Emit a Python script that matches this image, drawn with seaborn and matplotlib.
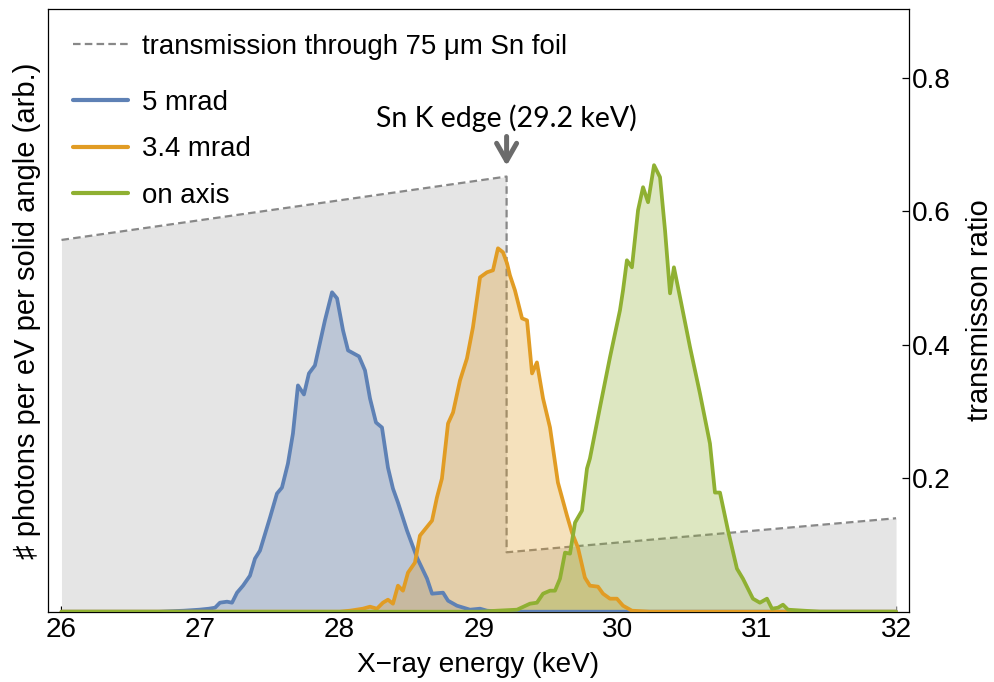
import matplotlib
matplotlib.use("Agg")
import matplotlib.pyplot as plt
from matplotlib.ticker import MultipleLocator, FixedLocator
import numpy as np
import pandas as pd
import seaborn as sns

# ---- spectra (photons per eV per solid angle, arbitrary units) ----
energy_5mrad = [26.0, 26.7, 26.88, 26.99, 27.06, 27.104, 27.139, 27.190, 27.226, 27.262,
                27.305, 27.355, 27.391, 27.427, 27.499, 27.549, 27.585, 27.628, 27.664,
                27.700, 27.743, 27.779, 27.822, 27.894, 27.945, 27.981, 28.024, 28.060,
                28.139, 28.182, 28.218, 28.261, 28.304, 28.347, 28.383, 28.419, 28.484,
                28.556, 28.628, 28.664, 28.743, 28.779, 28.843, 28.937, 29.009, 29.059,
                29.15, 32.0]
photons_5mrad = [0, 0, 1, 2, 3, 4, 9, 10, 9, 19,
                 26, 36, 53, 61, 94, 118, 124, 148, 178,
                 226, 217, 238, 246, 291, 319, 313, 281, 261,
                 255, 241, 213, 189, 184, 144, 123, 109, 81,
                 54, 33, 18, 19, 11, 6, 2, 3, 1,
                 0, 0]

energy_34mrad = [26.0, 28.0, 28.074, 28.167, 28.218, 28.268, 28.311, 28.347, 28.383, 28.419,
                 28.455, 28.491, 28.541, 28.577, 28.664, 28.699, 28.735, 28.779, 28.815,
                 28.865, 28.915, 28.958, 29.009, 29.059, 29.102, 29.138, 29.174, 29.203,
                 29.224, 29.260, 29.311, 29.347, 29.383, 29.418, 29.462, 29.512, 29.569,
                 29.634, 29.670, 29.713, 29.763, 29.799, 29.857, 29.893, 29.943, 29.993,
                 30.037, 30.101, 30.23, 32.0]
photons_34mrad = [0, 0, 1, 3, 5, 3, 9, 12, 8, 26,
                  21, 39, 49, 76, 91, 114, 133, 188, 199,
                  231, 253, 284, 334, 339, 341, 363, 359, 348,
                  336, 321, 293, 291, 238, 249, 213, 184, 129,
                  96, 79, 64, 34, 26, 25, 18, 13, 13,
                  6, 1, 0, 0]

energy_axis = [26.0, 29.009, 29.131, 29.275, 29.368, 29.418, 29.462, 29.512, 29.548, 29.584,
               29.620, 29.656, 29.692, 29.742, 29.778, 29.799, 29.871, 29.943, 30.015,
               30.037, 30.065, 30.101, 30.145, 30.181, 30.217, 30.260, 30.303, 30.339,
               30.375, 30.403, 30.447, 30.519, 30.590, 30.662, 30.698, 30.734, 30.792,
               30.856, 30.899, 30.971, 31.021, 31.072, 31.108, 31.151, 31.187, 31.223,
               31.453, 32.0]
photons_axis = [0, 0, 1, 2, 8, 9, 18, 21, 21, 33,
                59, 58, 89, 101, 143, 153, 204, 254, 301,
                321, 351, 344, 401, 424, 409, 446, 434, 381,
                318, 344, 314, 264, 218, 168, 119, 119, 81,
                43, 33, 13, 9, 13, 3, 4, 7, 2,
                0, 0]

series_labels = ["5 mrad", "3.4 mrad", "on axis"]
series_colors = ["#5E81B5", "#E19C24", "#8FB032"]

# ---- Sn foil transmission (75 um), K edge at 29.2 keV ----
energy_foil = [26.0, 29.2, 29.2, 32.0]
transmission_foil = [0.557, 0.652, 0.089, 0.140]
k_edge_keV = 29.2

x_ticks = [26, 27, 28, 29, 30, 31, 32]
ratio_ticks = [0.2, 0.4, 0.6, 0.8]

spectra = pd.concat([
    pd.DataFrame({"energy": energy_5mrad, "photons": photons_5mrad, "angle": series_labels[0]}),
    pd.DataFrame({"energy": energy_34mrad, "photons": photons_34mrad, "angle": series_labels[1]}),
    pd.DataFrame({"energy": energy_axis, "photons": photons_axis, "angle": series_labels[2]}),
], ignore_index=True)
foil = pd.DataFrame({"energy": energy_foil, "transmission": transmission_foil})

sns.set_theme(style="white")
plt.rcParams["font.family"] = ["Liberation Sans", "DejaVu Sans"]
plt.rcParams["axes.edgecolor"] = "black"
plt.rcParams["axes.linewidth"] = 0.9
plt.rcParams["text.color"] = "black"
plt.rcParams["axes.labelcolor"] = "black"

W, H = 994, 682
fig = plt.figure(figsize=(W / 100, H / 100), dpi=100)
L, R, T, B = 48, 909, 9, 611.7
ax = fig.add_axes([L / W, 1 - B / H, (R - L) / W, (B - T) / H])
ax2 = ax.twinx()

FS = 20.2
FS_LEGEND = 19.9
FS_LABEL = 21

# transmission on the lower layer
ax.fill_between(foil["energy"], foil["transmission"], 0, color="#e5e5e5", lw=0, zorder=1)
sns.lineplot(data=foil, x="energy", y="transmission", ax=ax, estimator=None, sort=False,
             color="#888888", lw=1.6, dashes=False, zorder=2)
foil_line = ax.lines[-1]
foil_line.set_dashes((3.4, 1.9))
ax.set_ylim(0, 0.903)
ax.set_xlim(25.903, 32.093)

# spectra on the upper layer
palette = dict(zip(series_labels, series_colors))
sns.lineplot(data=spectra, x="energy", y="photons", hue="angle", palette=palette,
             hue_order=series_labels, estimator=None, ax=ax2, lw=2.7, legend=False, zorder=3)
for name, col in zip(series_labels, series_colors):
    sub = spectra[spectra["angle"] == name]
    ax2.fill_between(sub["energy"], sub["photons"], 0, color=col, alpha=0.3, lw=0, zorder=2)
ax2.set_ylim(0, 602)
spectra_lines = ax2.lines[:3]

# axes styling
ax.yaxis.tick_right()
ax.yaxis.set_label_position("right")
ax.yaxis.set_major_locator(FixedLocator(ratio_ticks))
ax.set_yticklabels([f"{t:.1f}" for t in ratio_ticks])
ax.tick_params(axis="y", which="major", direction="in", length=5, width=0.9,
               right=True, left=False, labelright=True, labelleft=False,
               pad=2, labelsize=FS, colors="black")
ax.xaxis.set_major_locator(FixedLocator(x_ticks))
ax.xaxis.set_minor_locator(MultipleLocator(0.2))
ax.set_xticklabels([str(t) for t in x_ticks])
ax.tick_params(axis="x", which="both", direction="in", bottom=True, top=False,
               width=0.9, labelsize=FS, pad=4, colors="black")
ax.tick_params(axis="x", which="major", length=4.5)
ax.tick_params(axis="x", which="minor", length=3.5)
ax2.set_yticks([])
ax2.yaxis.set_label_position("left")
ax2.set_ylabel("\u266f photons per eV per solid angle (arb.)", fontsize=FS_LABEL,
               labelpad=5, color="black")
ax.set_ylabel("transmisson ratio", fontsize=FS_LABEL, labelpad=11, color="black")
ax.set_xlabel("X\u2212ray energy (keV)", fontsize=FS, labelpad=6, color="black")
for s in ax2.spines.values():
    s.set_visible(False)

# K edge marker
ax.annotate("", xy=(k_edge_keV, 0.668), xytext=(k_edge_keV, 0.712),
            arrowprops=dict(arrowstyle="->,head_length=1.05,head_width=0.6",
                            color="#6b6b6b", lw=3.6, shrinkA=0, shrinkB=0), zorder=5)
ax.text(k_edge_keV, 0.739, "Sn K edge (29.2 keV)", ha="center", va="center",
        fontsize=20.5, family=["Lato", "DejaVu Sans"], color="black", zorder=5)

# legends
leg1 = ax2.legend([foil_line], ["transmission through 75 \u03bcm Sn foil"],
                  loc="upper left", bbox_to_anchor=(73 / W, 1 - 34 / H),
                  bbox_transform=fig.transFigure, frameon=False, fontsize=FS_LEGEND,
                  handlelength=1.98, handletextpad=0.52, borderpad=0, borderaxespad=0)
ax2.add_artist(leg1)
ax2.legend(spectra_lines, series_labels, loc="upper left",
           bbox_to_anchor=(73 / W, 1 - 90 / H), bbox_transform=fig.transFigure,
           frameon=False, fontsize=FS_LEGEND, handlelength=1.98, handletextpad=0.52,
           labelspacing=0.74, borderpad=0, borderaxespad=0)
for line in ax2.get_legend().get_lines():
    line.set_linewidth(3.0)

fig.savefig("out.png", dpi=100)
